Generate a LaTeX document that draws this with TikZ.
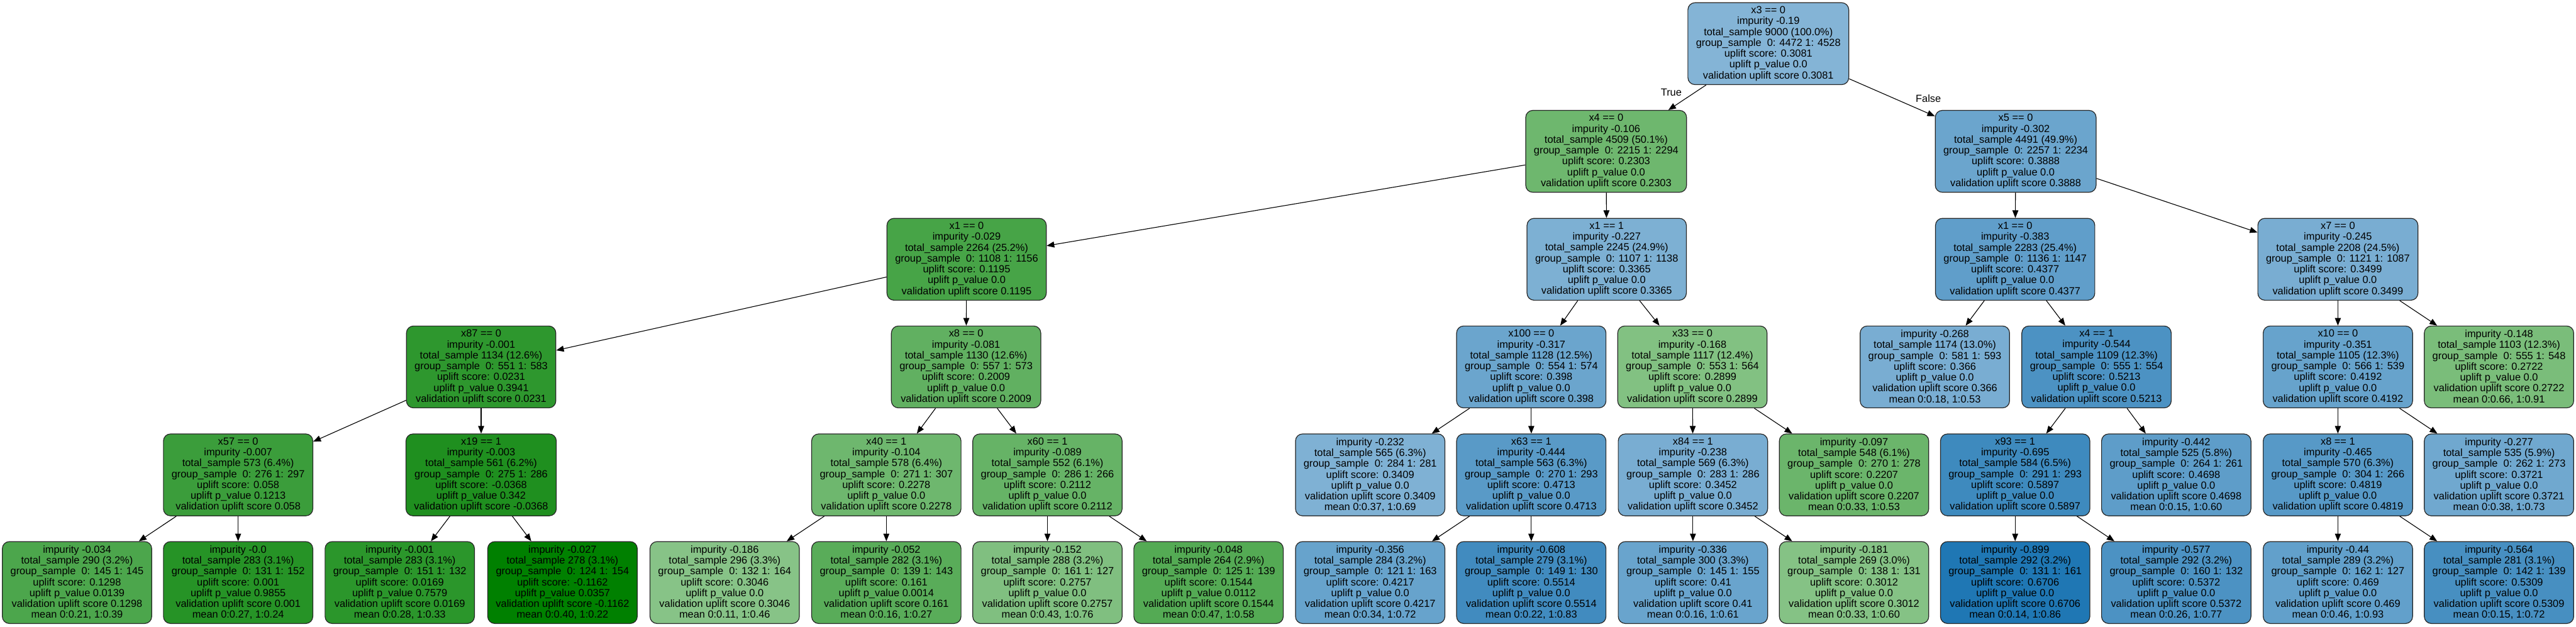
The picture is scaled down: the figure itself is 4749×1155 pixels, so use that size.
\documentclass[tikz,border=0pt]{standalone}
\usepackage{fontspec}
\setmainfont{Liberation Sans}
\usetikzlibrary{arrows.meta}
\definecolor{tb}{HTML}{1F77B4}
\definecolor{tg}{HTML}{008000}
\newcommand\splitnode[6]{#1\\impurity #2\\total\_sample #3\\group\_sample\ \ #4\\uplift score: #5\\uplift p\_value #6\\validation uplift score #5}
\newcommand\leafnode[6]{impurity #1\\total\_sample #2\\group\_sample\ \ #3\\uplift score: #4\\uplift p\_value #5\\validation uplift score #4\\mean #6}
\tikzset{
  tnode/.style={draw=black!85, line width=0.7pt, rounded corners=6.5pt, align=center,
    font=\fontsize{9.5pt}{10pt}\selectfont, minimum height=75.5pt, inner xsep=7.5pt, inner ysep=2pt},
  B/.style={tnode, fill=tb!#1!white},
  G/.style={tnode, fill=tg!#1!white},
  edge/.style={draw=black, line width=0.65pt, -{Triangle[length=7pt,width=5.5pt]}},
  elabel/.style={font=\fontsize{9.5pt}{10pt}\selectfont, inner sep=0pt},
}
\begin{document}
\begin{tikzpicture}[x=0.5pt, y=-0.5pt]
\useasboundingbox (0,0) rectangle (4749,1155);
% level 0
\node[B=55] (r) at (3260,80.5) {\splitnode{x3 == 0}{-0.19}{9000 (100.0\%)}{0: 4472 1: 4528}{0.3081}{0.0}};
% level 1
\node[G=57] (a) at (2961,279) {\splitnode{x4 == 0}{-0.106}{4509 (50.1\%)}{0: 2215 1: 2294}{0.2303}{0.0}};
\node[B=66] (b) at (3716,279) {\splitnode{x5 == 0}{-0.302}{4491 (49.9\%)}{0: 2257 1: 2234}{0.3888}{0.0}};
% level 2
\node[G=72] (a1) at (1782,478) {\splitnode{x1 == 0}{-0.029}{2264 (25.2\%)}{0: 1108 1: 1156}{0.1195}{0.0}};
\node[B=58] (a2) at (2962,478) {\splitnode{x1 == 1}{-0.227}{2245 (24.9\%)}{0: 1107 1: 1138}{0.3365}{0.0}};
\node[B=71] (b1) at (3715,478) {\splitnode{x1 == 0}{-0.383}{2283 (25.4\%)}{0: 1136 1: 1147}{0.4377}{0.0}};
\node[B=60] (b2) at (4310,478) {\splitnode{x7 == 0}{-0.245}{2208 (24.5\%)}{0: 1121 1: 1087}{0.3499}{0.0}};
% level 3
\node[G=82] (a11) at (887,676.5) {\splitnode{x87 == 0}{-0.001}{1134 (12.6\%)}{0: 551 1: 583}{0.0231}{0.3941}};
\node[G=62] (a12) at (1781,676.5) {\splitnode{x8 == 0}{-0.081}{1130 (12.6\%)}{0: 557 1: 573}{0.2009}{0.0}};
\node[B=66] (a21) at (2823,676.5) {\splitnode{x100 == 0}{-0.317}{1128 (12.5\%)}{0: 554 1: 574}{0.398}{0.0}};
\node[G=49] (a22) at (3120,676.5) {\splitnode{x33 == 0}{-0.168}{1117 (12.4\%)}{0: 553 1: 564}{0.2899}{0.0}};
\node[B=60] (b11) at (3567,676.5) {\leafnode{-0.268}{1174 (13.0\%)}{0: 581 1: 593}{0.366}{0.0}{0:0.18, 1:0.53}};
\node[B=80] (b12) at (3865,676.5) {\splitnode{x4 == 1}{-0.544}{1109 (12.3\%)}{0: 555 1: 554}{0.5213}{0.0}};
\node[B=68] (b21) at (4310,676.5) {\splitnode{x10 == 0}{-0.351}{1105 (12.3\%)}{0: 566 1: 539}{0.4192}{0.0}};
\node[G=52] (b22) at (4607,676.5) {\leafnode{-0.148}{1103 (12.3\%)}{0: 555 1: 548}{0.2722}{0.0}{0:0.66, 1:0.91}};
% level 4
\node[G=77] (a111) at (439,875.5) {\splitnode{x57 == 0}{-0.007}{573 (6.4\%)}{0: 276 1: 297}{0.058}{0.1213}};
\node[G=88] (a112) at (887,875.5) {\splitnode{x19 == 1}{-0.003}{561 (6.2\%)}{0: 275 1: 286}{-0.0368}{0.342}};
\node[G=57] (a121) at (1634,875.5) {\splitnode{x40 == 1}{-0.104}{578 (6.4\%)}{0: 271 1: 307}{0.2278}{0.0}};
\node[G=60] (a122) at (1931,875.5) {\splitnode{x60 == 1}{-0.089}{552 (6.1\%)}{0: 286 1: 266}{0.2112}{0.0}};
\node[B=57] (a211) at (2526,875.5) {\leafnode{-0.232}{565 (6.3\%)}{0: 284 1: 281}{0.3409}{0.0}{0:0.37, 1:0.69}};
\node[B=74] (a212) at (2823,875.5) {\splitnode{x63 == 1}{-0.444}{563 (6.3\%)}{0: 270 1: 293}{0.4713}{0.0}};
\node[B=60] (a221) at (3121,875.5) {\splitnode{x84 == 1}{-0.238}{569 (6.3\%)}{0: 283 1: 286}{0.3452}{0.0}};
\node[G=58] (a222) at (3418,875.5) {\leafnode{-0.097}{548 (6.1\%)}{0: 270 1: 278}{0.2207}{0.0}{0:0.33, 1:0.53}};
\node[B=86] (b121) at (3715,875.5) {\splitnode{x93 == 1}{-0.695}{584 (6.5\%)}{0: 291 1: 293}{0.5897}{0.0}};
\node[B=72] (b122) at (4012,875.5) {\leafnode{-0.442}{525 (5.8\%)}{0: 264 1: 261}{0.4698}{0.0}{0:0.15, 1:0.60}};
\node[B=75] (b211) at (4310,875.5) {\splitnode{x8 == 1}{-0.465}{570 (6.3\%)}{0: 304 1: 266}{0.4819}{0.0}};
\node[B=64] (b212) at (4607,875.5) {\leafnode{-0.277}{535 (5.9\%)}{0: 262 1: 273}{0.3721}{0.0}{0:0.38, 1:0.73}};
% level 5
\node[G=70] (a1111) at (142,1074) {\leafnode{-0.034}{290 (3.2\%)}{0: 145 1: 145}{0.1298}{0.0139}{0:0.21, 1:0.39}};
\node[G=85] (a1112) at (439,1074) {\leafnode{-0.0}{283 (3.1\%)}{0: 131 1: 152}{0.001}{0.9855}{0:0.27, 1:0.24}};
\node[G=83] (a1121) at (737,1074) {\leafnode{-0.001}{283 (3.1\%)}{0: 151 1: 132}{0.0169}{0.7579}{0:0.28, 1:0.33}};
\node[G=100] (a1122) at (1037,1074) {\leafnode{-0.027}{278 (3.1\%)}{0: 124 1: 154}{-0.1162}{0.0357}{0:0.40, 1:0.22}};
\node[G=47] (a1211) at (1336,1074) {\leafnode{-0.186}{296 (3.3\%)}{0: 132 1: 164}{0.3046}{0.0}{0:0.11, 1:0.46}};
\node[G=65] (a1212) at (1634,1074) {\leafnode{-0.052}{282 (3.1\%)}{0: 139 1: 143}{0.161}{0.0014}{0:0.16, 1:0.27}};
\node[G=50] (a1221) at (1931,1074) {\leafnode{-0.152}{288 (3.2\%)}{0: 161 1: 127}{0.2757}{0.0}{0:0.43, 1:0.76}};
\node[G=67] (a1222) at (2228,1074) {\leafnode{-0.048}{264 (2.9\%)}{0: 125 1: 139}{0.1544}{0.0112}{0:0.47, 1:0.58}};
\node[B=68] (a2121) at (2526,1074) {\leafnode{-0.356}{284 (3.2\%)}{0: 121 1: 163}{0.4217}{0.0}{0:0.34, 1:0.72}};
\node[B=85] (a2122) at (2823,1074) {\leafnode{-0.608}{279 (3.1\%)}{0: 149 1: 130}{0.5514}{0.0}{0:0.22, 1:0.83}};
\node[B=67] (a2211) at (3121,1074) {\leafnode{-0.336}{300 (3.3\%)}{0: 145 1: 155}{0.41}{0.0}{0:0.16, 1:0.61}};
\node[G=48] (a2212) at (3418,1074) {\leafnode{-0.181}{269 (3.0\%)}{0: 138 1: 131}{0.3012}{0.0}{0:0.33, 1:0.60}};
\node[B=100] (b1211) at (3715,1074) {\leafnode{-0.899}{292 (3.2\%)}{0: 131 1: 161}{0.6706}{0.0}{0:0.14, 1:0.86}};
\node[B=80] (b1212) at (4012,1074) {\leafnode{-0.577}{292 (3.2\%)}{0: 160 1: 132}{0.5372}{0.0}{0:0.26, 1:0.77}};
\node[B=70] (b2111) at (4310,1074) {\leafnode{-0.44}{289 (3.2\%)}{0: 162 1: 127}{0.469}{0.0}{0:0.46, 1:0.93}};
\node[B=82] (b2112) at (4607,1074) {\leafnode{-0.564}{281 (3.1\%)}{0: 142 1: 139}{0.5309}{0.0}{0:0.15, 1:0.72}};
% edges
\draw[edge] (r) -- (a);
\draw[edge] (r) -- (b);
\node[elabel] (lt) at (3081,170) {True};
\node[elabel] (lf) at (3555,182) {False};
\foreach \p/\c in {a/a1, a/a2, b/b1, b/b2,
  a1/a11, a1/a12, a2/a21, a2/a22, b1/b11, b1/b12, b2/b21, b2/b22,
  a11/a111, a11/a112, a12/a121, a12/a122, a21/a211, a21/a212, a22/a221, a22/a222,
  b12/b121, b12/b122, b21/b211, b21/b212,
  a111/a1111, a111/a1112, a112/a1121, a112/a1122, a121/a1211, a121/a1212, a122/a1221, a122/a1222,
  a212/a2121, a212/a2122, a221/a2211, a221/a2212, b121/b1211, b121/b1212, b211/b2111, b211/b2112}
  \draw[edge] (\p) -- (\c);
\end{tikzpicture}
\end{document}
